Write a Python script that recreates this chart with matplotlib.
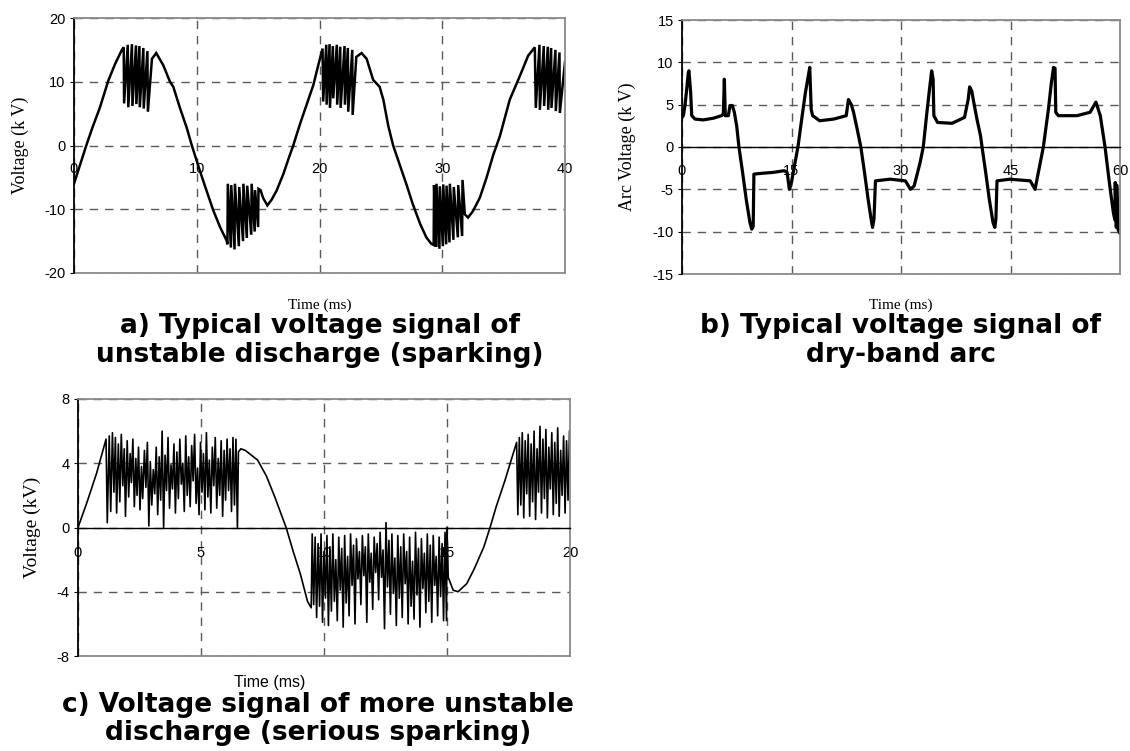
import matplotlib
matplotlib.use("Agg")
import matplotlib.pyplot as plt

plt.rcParams["axes.unicode_minus"] = False

# ---------------- data: panel a (sparking) ----------------
a_time = [0.0, 0.5, 1.0, 1.5, 2.1, 2.8, 3.35, 3.9, 4.05,
          4.08, 4.38, 4.42, 4.72, 4.76, 5.05, 5.08, 5.33, 5.36, 5.65, 5.68, 5.98, 6.02,
          6.35, 6.7, 7.27, 7.82, 8.09, 8.63, 9.18, 9.6, 10.26, 10.8, 11.35, 11.9, 12.43, 12.5,
          12.53, 12.78, 12.81, 13.08, 13.11, 13.43, 13.46, 13.77, 13.8, 14.08, 14.11, 14.44,
          14.47, 14.72, 14.75, 15.0, 15.03, 15.2, 15.4, 15.75, 16.1, 16.5, 17.05, 17.6, 17.86,
          18.4, 18.95, 19.5, 19.9, 20.25,
          20.3, 20.55, 20.58, 20.82, 20.85, 21.09, 21.12, 21.41, 21.44, 21.69, 21.72, 22.04,
          22.07, 22.31, 22.34, 22.67, 22.7, 23.0, 23.43, 23.84, 24.37, 24.9, 25.2, 25.6, 26.0,
          26.55, 27.1, 27.6, 28.2, 28.7, 29.1,
          29.3, 29.33, 29.5, 29.53, 29.77, 29.8, 30.05, 30.08, 30.32, 30.35, 30.59, 30.62,
          30.91, 30.94, 31.27, 31.3, 31.62, 31.65, 31.84, 32.1, 32.5, 33.06, 33.6, 34.15,
          34.7, 35.5, 36.3, 37.0, 37.54,
          37.62, 37.92, 37.95, 38.27, 38.3, 38.6, 38.63, 38.87, 38.9, 39.22, 39.25, 39.55,
          39.58, 40.0]
a_volt = [-6.0, -3.0, 0.0, 2.8, 5.9, 10.2, 12.8, 15.0, 15.4,
          6.6, 15.8, 6.0, 15.9, 6.2, 15.7, 6.5, 15.6, 6.0, 15.3, 5.8, 14.8, 5.3,
          13.6, 14.5, 12.6, 10.0, 9.2, 5.9, 2.8, 0.0, -4.0, -7.1, -10.2, -12.8, -14.9, -15.5,
          -6.0, -16.0, -6.2, -16.3, -6.0, -15.8, -6.5, -15.0, -6.0, -14.5, -6.3, -14.0,
          -6.0, -13.5, -7.0, -12.8, -6.8, -7.0, -8.2, -9.4, -8.5, -7.1, -4.5, -1.4, 0.0,
          3.3, 6.4, 9.5, 12.6, 15.2,
          6.9, 15.8, 6.4, 15.9, 5.9, 15.6, 7.4, 15.8, 6.4, 15.5, 5.9, 15.6,
          6.4, 15.3, 5.3, 15.0, 4.8, 13.9, 14.5, 13.6, 10.3, 9.2, 7.2, 3.1, 0.0,
          -3.1, -6.2, -9.2, -12.3, -14.4, -15.4,
          -15.6, -6.2, -15.9, -6.0, -16.2, -6.4, -15.8, -6.1, -15.5, -6.3, -15.2, -6.0,
          -14.8, -6.5, -14.4, -6.2, -14.2, -5.4, -10.8, -11.3, -10.3, -8.2, -5.1, -1.5,
          1.5, 7.2, 10.8, 14.1, 15.4,
          5.9, 15.8, 5.6, 15.6, 6.2, 15.5, 5.6, 15.3, 5.9, 15.0, 5.4, 14.6,
          5.1, 13.1]
a_xticks = [0, 10, 20, 30, 40]
a_yticks = [-20, -10, 0, 10, 20]

# ---------------- data: panel b (dry-band arc) ----------------
b_time = [0.0, 0.18, 0.41, 0.64, 0.87, 0.95, 1.19, 1.33, 1.78, 2.9, 4.3, 5.4, 5.66, 5.8,
          5.93, 6.35, 6.58, 6.9, 7.17, 7.49, 7.8, 8.3, 8.8, 9.3, 9.55, 9.75, 9.85, 11.0,
          12.5, 14.0, 14.4, 14.7, 14.9, 15.9, 16.4, 16.9, 17.3, 17.5, 17.7, 17.9, 18.85,
          20.8, 22.5, 22.8, 23.2, 23.5, 24.0, 24.5, 25.0, 25.5, 25.9, 26.1, 26.3, 26.5,
          28.5, 30.6, 31.3, 31.8, 32.6, 33.05, 33.5, 33.9, 34.2, 34.4, 34.5, 35.0, 37.0,
          38.7, 39.2, 39.4, 39.7, 39.9, 40.4, 40.9, 41.1, 41.6, 42.1, 42.6, 42.85, 43.0,
          43.15, 44.9, 47.7, 48.36, 49.5, 50.2, 50.6, 50.9, 51.1, 51.2, 51.55, 54.1, 55.9,
          56.7, 57.3, 57.95, 58.6, 59.1, 59.3, 59.35, 59.5, 59.55, 59.75, 60.0]
b_volt = [3.5, 3.7, 4.9, 6.8, 8.8, 9.0, 6.4, 3.7, 3.3, 3.2, 3.4, 3.7, 3.9, 8.0,
          3.7, 3.7, 4.9, 4.9, 4.1, 2.5, 0.0, -3.0, -6.2, -8.9, -9.7, -9.4, -3.2, -3.1,
          -3.0, -2.8, -3.0, -5.0, -4.6, 0.1, 3.3, 6.4, 8.4, 9.4, 4.4, 3.7, 3.1,
          3.3, 3.7, 5.6, 5.0, 4.1, 2.1, 0.0, -3.0, -6.2, -8.5, -9.5, -8.5, -4.0,
          -3.8, -4.0, -5.0, -4.6, -1.9, 0.0, 3.7, 6.8, 9.0, 8.0, 3.7, 2.9, 2.8,
          3.5, 5.6, 7.1, 6.6, 5.6, 3.3, 1.3, 0.0, -3.0, -6.2, -8.9, -9.5, -8.5,
          -4.0, -3.8, -4.0, -5.0, 0.0, 4.5, 7.6, 9.4, 9.3, 4.1, 3.7, 3.7, 4.1,
          5.3, 3.7, 0.0, -4.6, -7.8, -8.6, -4.2, -9.5, -4.5, -9.8, -10.2]
b_xticks = [0, 15, 30, 45, 60]
b_yticks = [-15, -10, -5, 0, 5, 10, 15]

# ---------------- data: panel c (serious sparking) ----------------
c_time = [0.0, 0.35, 0.76, 1.14,
          1.19, 1.27, 1.33, 1.40, 1.46, 1.52, 1.57, 1.64, 1.70, 1.76, 1.82, 1.88, 1.93, 2.00,
          2.06, 2.12, 2.17, 2.23, 2.29, 2.35, 2.40, 2.46, 2.52, 2.58, 2.63, 2.70, 2.76, 2.82,
          2.88, 2.94, 3.00, 3.06, 3.12, 3.18, 3.24, 3.30, 3.36, 3.42, 3.48, 3.54, 3.60, 3.66,
          3.72, 3.78, 3.84, 3.90, 3.96, 4.02, 4.08, 4.14, 4.20, 4.26, 4.32, 4.38, 4.44, 4.50,
          4.56, 4.62, 4.68, 4.74, 4.80, 4.86, 4.92, 4.98, 5.04, 5.10, 5.16, 5.22, 5.28, 5.34,
          5.40, 5.46, 5.52, 5.58, 5.64, 5.70, 5.76, 5.82, 5.88, 5.94, 6.00, 6.06, 6.12, 6.18,
          6.24, 6.30, 6.36, 6.42, 6.48, 6.52, 6.62, 6.80,
          7.3, 7.66, 8.0, 8.46, 8.75, 9.04, 9.33, 9.48,
          9.52, 9.58, 9.64, 9.70, 9.76, 9.82, 9.88, 9.94, 10.00, 10.06, 10.12, 10.18, 10.24,
          10.30, 10.36, 10.42, 10.48, 10.54, 10.60, 10.66, 10.72, 10.78, 10.84, 10.90, 10.96,
          11.02, 11.08, 11.14, 11.20, 11.26, 11.32, 11.38, 11.44, 11.50, 11.56, 11.62, 11.68,
          11.74, 11.80, 11.86, 11.92, 11.98, 12.04, 12.10, 12.16, 12.22, 12.28, 12.34, 12.40,
          12.46, 12.52, 12.58, 12.64, 12.70, 12.76, 12.82, 12.88, 12.94, 13.00, 13.06, 13.12,
          13.18, 13.24, 13.30, 13.36, 13.42, 13.48, 13.54, 13.60, 13.66, 13.72, 13.78, 13.84,
          13.90, 13.96, 14.02, 14.08, 14.14, 14.20, 14.26, 14.32, 14.38, 14.44, 14.50, 14.56,
          14.62, 14.68, 14.74, 14.80, 14.86, 14.92, 14.98, 15.00,
          15.05, 15.25, 15.45, 15.8, 16.1, 16.5, 16.75, 17.0, 17.35, 17.63, 17.83,
          17.88, 17.94, 18.00, 18.06, 18.12, 18.18, 18.24, 18.30, 18.36, 18.42, 18.48, 18.54,
          18.60, 18.66, 18.72, 18.78, 18.84, 18.90, 18.96, 19.02, 19.08, 19.14, 19.20, 19.26,
          19.32, 19.38, 19.44, 19.50, 19.56, 19.62, 19.68, 19.74, 19.80, 19.86, 19.92, 19.98]
c_volt = [0.0, 1.5, 3.4, 5.5,
          0.3, 5.7, 1.0, 5.9, 2.2, 5.6, 0.9, 5.2, 1.6, 5.8, 2.6, 4.9, 0.7, 5.4,
          1.9, 4.6, 2.8, 5.5, 1.3, 4.3, 2.0, 5.0, 1.1, 3.8, 1.8, 4.8, 2.5, 5.3,
          0.1, 4.1, 1.4, 3.6, 2.1, 5.0, 0.8, 4.4, 1.7, 6.0, 0.0, 4.5, 2.3, 5.6,
          1.2, 3.9, 2.4, 5.2, 0.9, 4.7, 1.8, 5.5, 2.7, 4.0, 1.0, 5.7, 2.0, 4.4,
          1.3, 5.1, 2.9, 5.8, 1.5, 3.7, 0.8, 5.3, 2.2, 4.6, 1.1, 5.9, 1.9, 4.2,
          0.9, 5.0, 2.6, 5.6, 1.2, 4.3, 2.0, 5.4, 0.7, 4.8, 1.7, 5.5, 2.3, 4.9,
          1.0, 5.6, 1.4, 5.5, 0.0, 4.7, 4.9, 4.8,
          4.2, 3.2, 1.9, 0.0, -1.5, -2.9, -4.6, -5.0,
          -0.4, -4.8, -0.6, -5.6, -1.0, -4.9, -0.4, -5.9, -1.5, -4.4, -0.5, -6.1, -1.2,
          -5.2, -0.4, -4.6, -2.0, -5.8, -0.6, -3.9, -1.3, -6.2, -0.5, -4.7, -1.8,
          -5.5, -0.4, -3.6, -1.1, -6.0, -0.7, -3.2, -1.5, -4.8, -0.5, -3.0, -1.2,
          -5.9, -0.4, -3.4, -1.6, -5.1, -0.6, -2.8, -1.0, -4.5, -0.3, -3.1, -1.4,
          -6.3, 0.3, -3.7, -0.8, -5.4, -0.4, -4.1, -1.9, -6.1, -0.5, -4.4, -1.2,
          -5.6, -0.4, -3.5, -1.5, -6.0, -0.6, -4.9, -2.1, -5.7, -0.3, -4.2, -1.3,
          -6.2, -0.7, -3.8, -1.6, -5.3, -0.4, -4.6, -1.1, -5.9, -0.5, -3.6, -1.8,
          -5.5, -0.6, -4.3, -1.0, -5.8, -0.3, -5.8, 0.0,
          -3.1, -3.9, -4.0, -3.5, -2.6, -1.2, 0.0, 1.3, 2.9, 4.3, 5.3,
          0.8, 5.6, 1.4, 5.9, 0.6, 5.4, 2.1, 5.8, 0.7, 5.2, 1.6, 6.0,
          0.5, 4.9, 2.2, 6.3, 0.9, 5.5, 1.8, 6.1, 0.6, 5.0, 2.4, 5.9,
          0.8, 5.3, 1.5, 6.2, 0.7, 4.8, 2.0, 5.7, 0.9, 5.4, 1.7, 6.0]
c_xticks = [0, 5, 10, 15, 20]
c_yticks = [-8, -4, 0, 4, 8]

captions = ["a) Typical voltage signal of\nunstable discharge (sparking)",
            "b) Typical voltage signal of\ndry-band arc",
            "c) Voltage signal of more unstable\ndischarge (serious sparking)"]

# ---------------- layout ----------------
W, H = 1130, 751
fig = plt.figure(figsize=(W / 100, H / 100), dpi=100)


def rect(l, t, r, b):
    return [l / W, 1 - b / H, (r - l) / W, (b - t) / H]


SERIF = "Liberation Serif"
SANS = "Liberation Sans"


def style(ax, xlim, ylim, xt, yt, zero_solid, xpad, tickfont):
    ax.set_xlim(*xlim)
    ax.set_ylim(*ylim)
    ax.set_xticks(xt)
    ax.set_yticks(yt)
    ax.set_axisbelow(True)
    ax.grid(True, color="#5a5a5a", lw=1.0, ls=(0, (6, 5)))
    ax.spines["bottom"].set_position(("data", 0))
    ax.spines["bottom"].set_visible(zero_solid)
    ax.spines["bottom"].set_color("black")
    ax.spines["bottom"].set_linewidth(1.0)
    for s in ["top", "right"]:
        ax.spines[s].set_color("#8a8a8a")
        ax.spines[s].set_linewidth(1.3)
    ax.spines["left"].set_color("black")
    ax.spines["left"].set_linewidth(1.3)
    ax.axhline(ylim[0], color="#8a8a8a", lw=1.3, clip_on=False)
    ax.tick_params(axis="x", length=0, pad=xpad, labelsize=10.5)
    ax.tick_params(axis="y", length=3, pad=3, labelsize=10.5)
    for lab in ax.get_xticklabels() + ax.get_yticklabels():
        lab.set_fontfamily(tickfont)


# panel a
axa = fig.add_axes(rect(74, 18, 565, 273))
axa.plot(a_time, a_volt, color="black", lw=1.8, solid_joinstyle="miter")
style(axa, (0, 40), (-20, 20), a_xticks, a_yticks, False, 12, SANS)
axa.set_ylabel("Voltage (k V)", fontfamily=SERIF, fontsize=13)
axa.yaxis.label.set_va("center")
axa.yaxis.set_label_coords((20 - 74) / 491, 0.5)
axa.set_xlabel("Time (ms)", fontfamily=SERIF, fontsize=11)
axa.xaxis.label.set_va("center")
axa.xaxis.set_label_coords(0.5, (273 - 305) / 255)

# panel b
axb = fig.add_axes(rect(682, 20, 1120, 274))
axb.plot(b_time, b_volt, color="black", lw=2.3)
style(axb, (0, 60), (-15, 15), b_xticks, b_yticks, True, 12, SANS)
axb.set_ylabel("Arc Voltage (k V)", fontfamily=SERIF, fontsize=13)
axb.yaxis.label.set_va("center")
axb.yaxis.set_label_coords((627 - 682) / 438, 0.5)
axb.set_xlabel("Time (ms)", fontfamily=SERIF, fontsize=11)
axb.xaxis.label.set_va("center")
axb.xaxis.set_label_coords(0.5, (274 - 305) / 254)

# panel c
axc = fig.add_axes(rect(78, 399, 570, 656))
axc.plot(c_time, c_volt, color="black", lw=1.2)
style(axc, (0, 20), (-8, 8), c_xticks, c_yticks, True, 13, SANS)
axc.set_ylabel("Voltage (kV)", fontfamily=SERIF, fontsize=14)
axc.yaxis.label.set_va("center")
axc.yaxis.set_label_coords((32 - 78) / 492, 0.5)
axc.set_xlabel("Time (ms)", fontfamily=SANS, fontsize=11.5)
axc.xaxis.label.set_va("center")
axc.xaxis.set_label_coords((270 - 78) / 492, (656 - 683) / 257)

# captions
cap_kw = dict(ha="center", va="center", fontfamily="DejaVu Sans", fontweight="bold",
              fontsize=19, linespacing=1.15)
fig.text(320 / W, 1 - 340 / H, captions[0], **cap_kw)
fig.text(901 / W, 1 - 340 / H, captions[1], **cap_kw)
fig.text(318 / W, 1 - 719 / H, captions[2], **cap_kw)

fig.savefig("out.png", dpi=100)
